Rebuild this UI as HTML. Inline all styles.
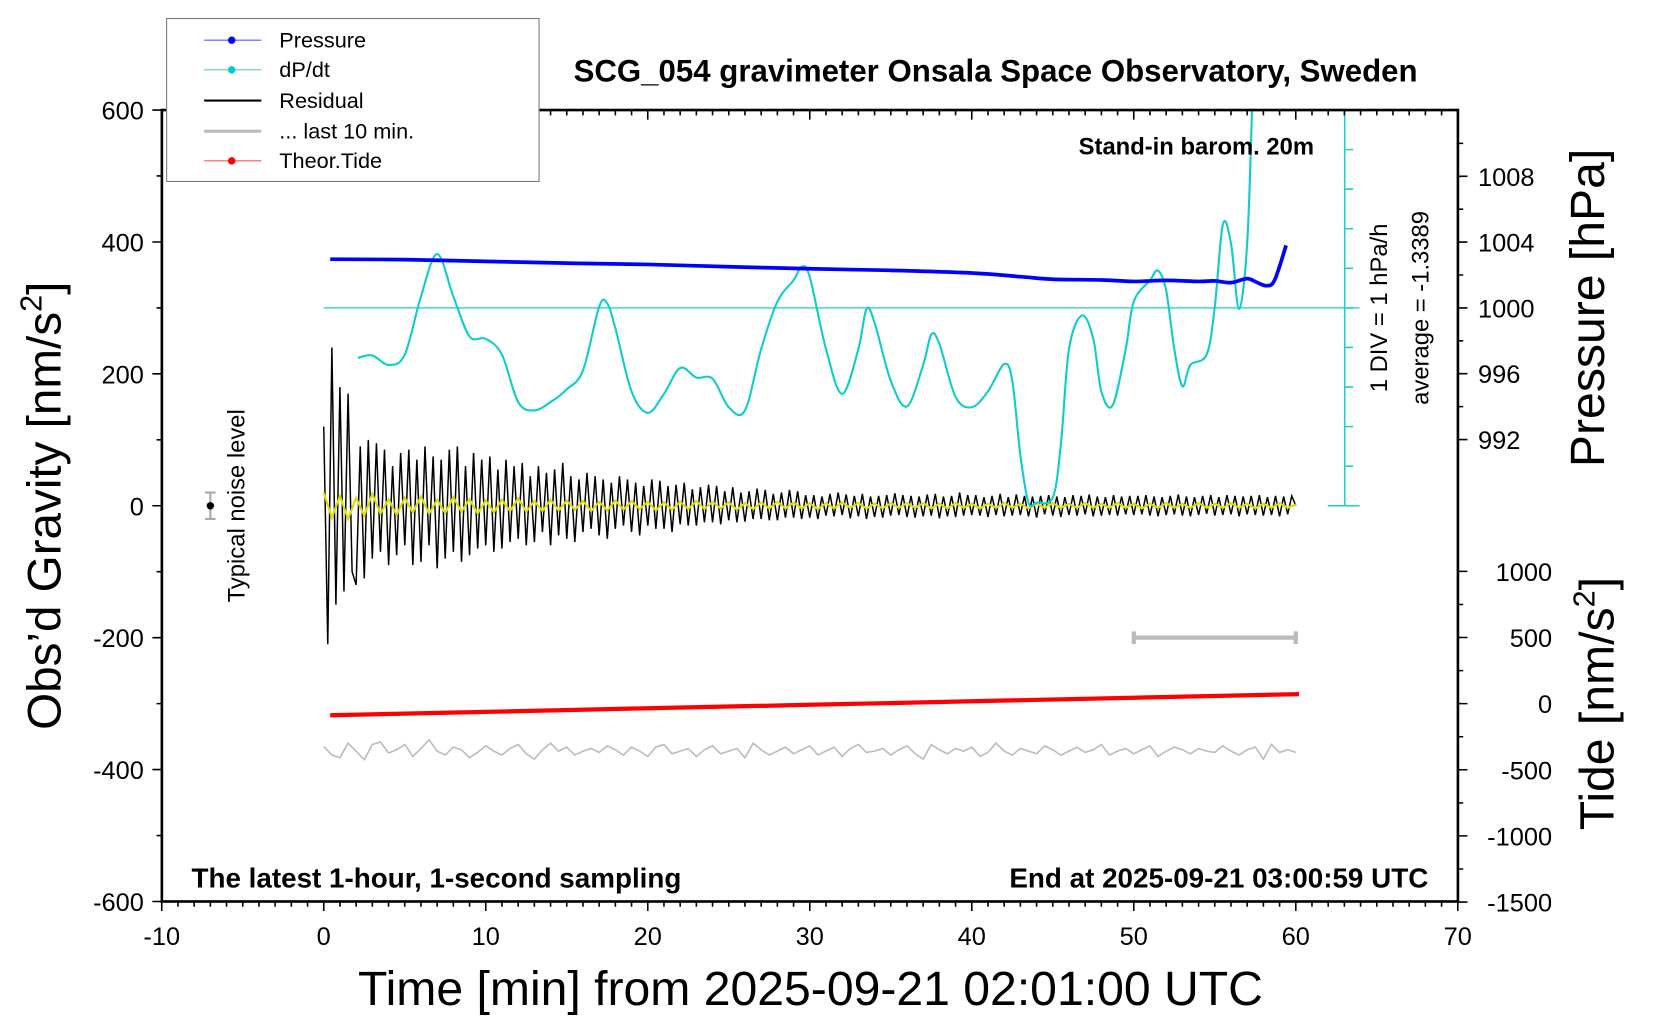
<!DOCTYPE html>
<html><head><meta charset="utf-8"><style>
html,body{margin:0;padding:0;background:#fff;}
svg{display:block;font-family:"Liberation Sans",Arial,sans-serif;}
</style></head><body>
<svg id="chart" width="1660" height="1020" viewBox="0 0 1569 964" preserveAspectRatio="none" xmlns="http://www.w3.org/2000/svg">
<defs><clipPath id="plotclip"><rect x="153" y="104" width="1225" height="748"/></clipPath></defs>
<rect x="0" y="0" width="1569" height="964" fill="#fff"/>
<g id="marks" clip-path="url(#plotclip)"></g>
<g id="axes"></g>
<g id="texts">
<text x="941" y="77" font-size="29.5" font-weight="bold" text-anchor="middle">SCG_054 gravimeter Onsala Space Observatory, Sweden</text>
<text x="1242" y="146" font-size="22.5" font-weight="bold" text-anchor="end">Stand-in barom. 20m</text>
<text transform="translate(1311,291) rotate(-90)" font-size="22.5" text-anchor="middle">1 DIV = 1 hPa/h</text>
<text transform="translate(1350,291) rotate(-90)" font-size="22.5" text-anchor="middle">average = -1.3389</text>
<text transform="translate(231,478) rotate(-90)" font-size="22.5" text-anchor="middle">Typical noise level</text>
<text x="181" y="839" font-size="26.3" font-weight="bold">The latest 1-hour, 1-second sampling</text>
<text x="1350" y="839" font-size="26.3" font-weight="bold" text-anchor="end">End at 2025-09-21 03:00:59 UTC</text>
<text transform="translate(57,478) rotate(-90)" font-size="45" text-anchor="middle">Obs’d Gravity [nm/s<tspan font-size="29" dy="-18">2</tspan><tspan dy="18">]</tspan></text>
<text transform="translate(1516,291) rotate(-90)" font-size="45.5" text-anchor="middle">Pressure [hPa]</text>
<text transform="translate(1525,665) rotate(-90)" font-size="45.5" text-anchor="middle">Tide [nm/s<tspan font-size="29" dy="-18">2</tspan><tspan dy="18">]</tspan></text>
<text x="766" y="950" font-size="45.5" text-anchor="middle">Time [min] from 2025-09-21 02:01:00 UTC</text>
</g>
<g id="legend">
<rect x="157.5" y="17.5" width="352" height="154" fill="#fff" stroke="#777" stroke-width="1"/>
<g><line x1="193" y1="38" x2="247" y2="38" stroke="#55f" stroke-width="1"/><circle cx="219" cy="38" r="3.5" fill="#00f"/><text x="264" y="45" font-size="20.5">Pressure</text></g>
<g><line x1="193" y1="66" x2="247" y2="66" stroke="#5cc" stroke-width="1"/><circle cx="219" cy="66" r="3.5" fill="#0cc"/><text x="264" y="73" font-size="20.5">dP/dt</text></g>
<g><line x1="193" y1="95" x2="247" y2="95" stroke="#000" stroke-width="2"/><text x="264" y="102" font-size="20.5">Residual</text></g>
<g><line x1="193" y1="124" x2="247" y2="124" stroke="#bbb" stroke-width="3"/><text x="264" y="131" font-size="20.5">... last 10 min.</text></g>
<g><line x1="193" y1="152" x2="247" y2="152" stroke="#f55" stroke-width="1"/><circle cx="219" cy="152" r="3.5" fill="#f00"/><text x="264" y="159" font-size="20.5">Theor.Tide</text></g>
</g>
</svg>
<script>
const pressureTimes = [0.4,5,10,15,20,25,30,35,40,43,45,48,50,52,54,55,56,57,57.6,58.2,58.7,59.4];
const pressureValues = [1002.96,1002.93,1002.83,1002.72,1002.64,1002.5,1002.38,1002.28,1002.12,1001.9,1001.74,1001.7,1001.61,1001.67,1001.61,1001.64,1001.54,1001.78,1001.55,1001.35,1001.7,1003.8];
const dpdtTimes = [2.1,3,4,5,6,7,8,9,10,11,12,13,14,15,16,17,17.5,18,19,20,21,22,23,24,25,26,27,28,29,29.5,30,31,32,33,33.5,34,35,36,37,37.5,38,39,40,41,42,42.5,43,43.5,44,45,45.5,46,46.8,47.5,48,48.7,49.5,50,51,51.5,52,52.5,53,53.5,54.5,55,55.5,56,56.5,57,57.3];
const dpdtValues = [-1.26,-1.2,-1.44,-1.18,0.29,1.36,0.29,-0.72,-0.78,-1.18,-2.38,-2.59,-2.38,-2.06,-1.58,0.03,0.11,-0.51,-2.11,-2.65,-2.17,-1.52,-1.76,-1.79,-2.51,-2.59,-1.04,0.16,0.7,1.04,0.78,-1.04,-2.17,-1.04,-0.03,-0.37,-1.84,-2.49,-1.44,-0.67,-0.91,-2.25,-2.51,-2.11,-1.42,-1.84,-3.72,-4.92,-4.92,-4.79,-3.45,-1.04,-0.19,-0.78,-2.11,-2.46,-1.04,0.16,0.7,0.94,0.43,-1.04,-1.98,-1.44,-1.18,0.03,2.11,1.63,-0.03,1.63,5.0];
const tideTimes = [0.4,10,20,30,40,50,60.2];
const tideValues = [-88,-62,-35,-9,18,45,72];
const residualValues = [120,-210,240,-150,180,-130,170,-100,-120,90,-110,100,-80,95,-70,85,-90,60,-75,80,-60,85,-90,70,-85,90,-60,75,-95,70,-80,85,-70,90,-85,60,-75,80,-65,70,-60,75,-70,55,-65,70,-55,60,-50,65,-60,45,-55,60,-40,50,-60,55,-45,65,-50,45,-55,40,-40,50,-35,45,-45,40,-50,35,-35,45,-30,40,-40,35,-45,30,-30,40,-35,38,-35,30,-40,32,-28,35,-30,25,-30,28,-25,32,-25,30,-28,22,-22,28,-25,20,-24,22,-20,26,-20,24,-22,18,-22,20,-18,24,-18,22,-20,16,
-18,16,-20,14,-15,18,-16,20,-14,17,-19,15,-16,18,-20,14,-17,15,-18,16,-15,19,-14,16,-17,15,-18,14,-16,17,-15,18,-19,14,-16,15,-17,20,-15,16,
-14,16,-15,13,-17,15,-14,18,-16,13,-15,17,-14,15,-16,14,-18,15,-13,16,-15,14,-17,13,-14,16,-15,15,-13,17,-16,14,-15,13,-14,16,-15,14,-13,15,
-14,15,-13,16,-15,14,-16,13,-14,15,-13,17,-15,14,-16,13,-14,15,-12,16,-15,13,-14,16,-13,15,-16,14,-13,15,-14,16,-15,13,-14,15,-16,14,-13,15,0];
const yellowValues = [20,-18,15,-20,12,-15,18,-12,10,-14,12,-10,14,-12,9,-11,13,-9,10,-12,8,-10,9,-8,11,-9,7,-8,9,-7,8,-6,7,-8,6,-7,8,-6,7,-5,6,-7,5,-6,6,-5,7,-5,6,-4,5,-6,4,-5,5,-4,6,-4,5,-4,4,-5,4,-4,5,-3,4,-4,3,-4,4,-3,4,-3,4,-4,3,-4,4,-3,3,-4,3,-3,4,-3,3,-4,3,-3,4,-3,3,-3,4,-3,3,-3,4,-3,3,-4,3,-3,4,-3,3,-3,4,-3,3,-3,4,-3,3,-4,3,-3,4,-3,2];
const lastTenValues = [-365,-378,-382,-360,-372,-385,-362,-358,-375,-370,-362,-380,-368,-355,-372,-378,-366,-370,-382,-374,-364,-372,-378,-368,-362,-376,-384,-370,-360,-372,-366,-378,-372,-368,-374,-364,-370,-378,-366,-372,-380,-366,-362,-376,-372,-368,-380,-370,-364,-376,-372,-368,-382,-360,-370,-378,-372,-366,-376,-370,-364,-378,-372,-366,-380,-368,-362,-374,-372,-368,-378,-370,-364,-376,-384,-362,-370,-376,-368,-372,-366,-380,-374,-360,-372,-378,-368,-372,-376,-364,-370,-378,-372,-366,-374,-370,-362,-378,-372,-368,-376,-370,-364,-380,-372,-366,-370,-376,-368,-372,-374,-364,-372,-378,-370,-366,-384,-362,-374,-370,-374];

const xAt = t => 306 + t * 15.3125;
const yAt = v => 478 - v * 0.62333;
const pY = p => 291 - (p - 1000) * 15.55;
const tideY = v => 665 - v * 0.125;
const dpY = v => 291 - v * 37.4;
const NS = 'http://www.w3.org/2000/svg';
function mk(tag, attrs, parent){const e=document.createElementNS(NS,tag);for(const k in attrs)e.setAttribute(k,attrs[k]);parent.appendChild(e);return e;}
const marks = document.getElementById('marks');
const axes = document.getElementById('axes');
function poly(pts){return pts.map(p=>p[0].toFixed(1)+','+p[1].toFixed(1)).join(' ');}
function smooth(pts){let d='M'+pts[0][0]+','+pts[0][1];for(let i=0;i<pts.length-1;i++){const p0=pts[Math.max(0,i-1)],p1=pts[i],p2=pts[i+1],p3=pts[Math.min(pts.length-1,i+2)];const c1=[p1[0]+(p2[0]-p0[0])/6,p1[1]+(p2[1]-p0[1])/6],c2=[p2[0]-(p3[0]-p1[0])/6,p2[1]-(p3[1]-p1[1])/6];d+=' C'+c1[0].toFixed(1)+','+c1[1].toFixed(1)+' '+c2[0].toFixed(1)+','+c2[1].toFixed(1)+' '+p2[0].toFixed(1)+','+p2[1].toFixed(1);}return d;}

let e;
e = mk('line',{x1:306,y1:291,x2:1285,y2:291,stroke:'#2cc',"stroke-width":1.2},marks);



const rN = residualValues.length;
e = mk('polyline',{points:poly(residualValues.map((v,i)=>[xAt(i*60/(rN-1)),yAt(v)])),fill:'none',stroke:'#000',"stroke-width":1.4},marks);


const yN = yellowValues.length;
e = mk('polyline',{points:poly(yellowValues.map((v,i)=>[xAt(i*60/(yN-1)),yAt(v)])),fill:'none',stroke:'#dd0',"stroke-width":2},marks);


const gN = lastTenValues.length;
e = mk('polyline',{points:poly(lastTenValues.map((v,i)=>[xAt(i*60/(gN-1)),yAt(v)])),fill:'none',stroke:'#bbb',"stroke-width":1.5},marks);


e = mk('polyline',{points:poly(tideTimes.map((t,i)=>[xAt(t),tideY(tideValues[i])])),fill:'none',stroke:'#f00',"stroke-width":4},marks);


e = mk('path',{d:smooth(dpdtTimes.map((t,i)=>[xAt(t),dpY(dpdtValues[i])])),fill:'none',stroke:'#1cc',"stroke-width":2},marks);


e = mk('path',{d:smooth(pressureTimes.map((t,i)=>[xAt(t),pY(pressureValues[i])])),fill:'none',stroke:'#00f',"stroke-width":3.5},marks);


e = mk('path',{d:`M${xAt(50)},${yAt(-200)} H${xAt(60)} M${xAt(50)},${yAt(-200)-6} V${yAt(-200)+6} M${xAt(60)},${yAt(-200)-6} V${yAt(-200)+6}`,stroke:'#bbb',"stroke-width":4,fill:'none'},marks);


e = mk('path',{d:`M${xAt(-7)},${yAt(20)} V${yAt(-20)} M${xAt(-7)-5},${yAt(20)} h10 M${xAt(-7)-5},${yAt(-20)} h10`,stroke:'#aaa',"stroke-width":2,fill:'none'},marks);


e = mk('circle',{cx:xAt(-7),cy:yAt(0),r:3.5,fill:'#000'},marks);



let d = 'M1271,104 V478 M1255,478 H1285';
for(let k=0;k<10;k++){const yy=478-k*37.4; d+=` M1271,${yy.toFixed(1)} h8`;}
e = mk('path',{d:d,stroke:'#2cc',"stroke-width":1.5,fill:'none'},axes);



e = mk('rect',{x:153,y:104,width:1225,height:748,fill:'none',stroke:'#000',"stroke-width":2.5},axes);


let tk='';
for(let t=-10;t<=70;t++){const x=xAt(t);const L=(t%10===0)?9:5;tk+=` M${x},852 v${L} M${x},104 v${L}`;}
for(let v=-600;v<=600;v+=100){const y=yAt(v);const L=(v%200===0)?9:5;tk+=` M153,${y.toFixed(1)} h${-L}`;}
for(let p=990;p<=1010;p+=2){const y=pY(p);if(y<104||y>440)continue;const L=(p%4===0)?9:5;tk+=` M1378,${y.toFixed(1)} h${L}`;}
for(let v=-1500;v<=1000;v+=250){const y=tideY(v);const L=(v%500===0)?9:5;tk+=` M1378,${y.toFixed(1)} h${L}`;}
e = mk('path',{d:tk,stroke:'#000',"stroke-width":1.5,fill:'none'},axes);


for(let t=-10;t<=70;t+=10){
 e = mk('text',{x:xAt(t),y:893,"font-size":24,"text-anchor":"middle"},axes);e.textContent=String(t);
 
 
}
for(let v=-600;v<=600;v+=200){
 e = mk('text',{x:136,y:yAt(v)+9,"font-size":24,"text-anchor":"end"},axes);e.textContent=String(v);
 
 
}
for(let p=992;p<=1008;p+=4){
 e = mk('text',{x:1397,y:pY(p)+9,"font-size":24},axes);e.textContent=String(p);
 
 
}
for(let v=-1500;v<=1000;v+=500){
 e = mk('text',{x:1467,y:tideY(v)+9,"font-size":24,"text-anchor":"end"},axes);e.textContent=String(v);
 
 
}
</script>
</body></html>
